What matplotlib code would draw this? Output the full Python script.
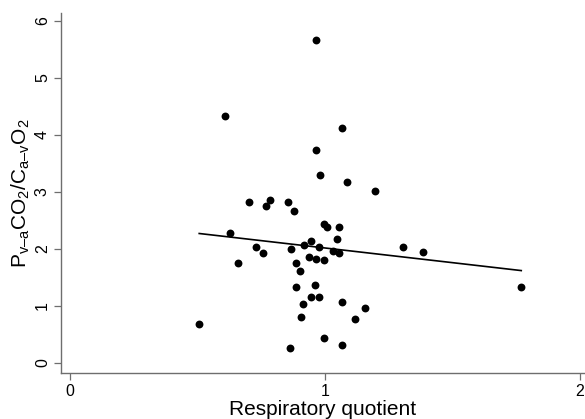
import matplotlib
matplotlib.use("Agg")
import matplotlib.pyplot as plt

plt.rcParams['font.family'] = ['Liberation Sans', 'DejaVu Sans']
plt.rcParams['mathtext.fontset'] = 'custom'
plt.rcParams['mathtext.rm'] = 'Liberation Sans'
plt.rcParams['mathtext.it'] = 'Liberation Sans'

# respiratory quotient vs Pv-aCO2/Ca-vO2
rq = [0.609, 0.704, 0.767, 0.786, 0.857, 0.877, 0.966, 1.067, 0.966, 0.979,
      1.087, 1.197, 0.628, 0.729, 0.759, 0.659, 0.868, 0.888, 0.904, 0.888,
      0.907, 0.507, 0.863, 0.995, 1.008, 1.057, 1.047, 0.919, 0.947, 0.978,
      1.030, 1.057, 0.937, 0.966, 0.996, 0.960, 0.947, 0.978, 0.915, 1.067,
      1.156, 1.118, 0.996, 1.067, 1.308, 1.384, 1.770]
ratio = [4.33, 2.82, 2.76, 2.85, 2.82, 2.67, 5.66, 4.12, 3.73, 3.30,
         3.18, 3.02, 2.27, 2.03, 1.93, 1.75, 1.99, 1.75, 1.61, 1.34,
         0.81, 0.68, 0.27, 2.44, 2.38, 2.39, 2.17, 2.07, 2.13, 2.03,
         1.97, 1.93, 1.85, 1.82, 1.80, 1.36, 1.16, 1.15, 1.03, 1.07,
         0.97, 0.78, 0.43, 0.32, 2.04, 1.95, 1.34]

# fitted line endpoints
fit_x = [0.507, 1.770]
fit_y = [2.27, 1.62]

xticks = [0, 1, 2]
yticks = [0, 1, 2, 3, 4, 5, 6]

fig = plt.figure(figsize=(5.85, 4.19), dpi=100)
ax = fig.add_axes([0.1043, 0.1098, 0.8957, 0.8599])

ax.scatter(rq, ratio, s=32, color='black', linewidths=0, zorder=3)
ax.plot(fit_x, fit_y, color='black', lw=1.2, zorder=2)

ax.set_xlim(-0.035, 2.02)
ax.set_ylim(-0.175, 6.14)
ax.set_xticks(xticks)
ax.set_yticks(yticks)
ax.set_yticklabels([str(t) for t in yticks], rotation=90, va='center')

for side in ['top', 'right']:
    ax.spines[side].set_visible(False)
for side in ['left', 'bottom']:
    ax.spines[side].set_color('#6e6e6e')
    ax.spines[side].set_linewidth(1.0)
ax.tick_params(axis='both', direction='out', length=5, width=0.9,
               color='#6e6e6e', labelsize=11.5, pad=3)

dash = '\u2013'
ylab = ('P$_{\\mathrm{v' + dash + 'a}}$CO$_2$/C$_{\\mathrm{a' + dash
        + 'v}}$O$_2$')
ax.set_xlabel('Respiratory quotient', fontsize=15, labelpad=1)
ax.set_ylabel(ylab, fontsize=15, labelpad=2)

fig.savefig('out.png', dpi=100)
